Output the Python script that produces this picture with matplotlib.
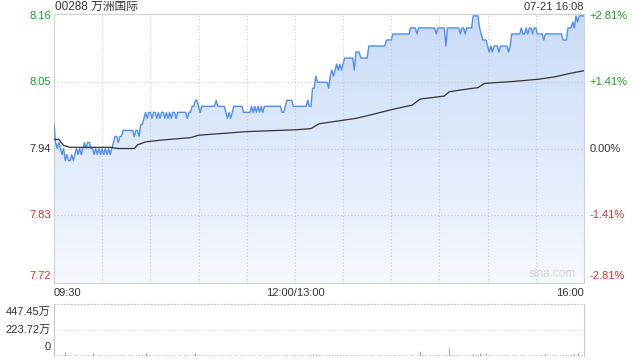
import numpy as np
import matplotlib.pyplot as plt
from matplotlib.colors import LinearSegmentedColormap

plt.rcParams['font.family'] = ['Liberation Sans', 'Noto Sans CJK SC']

title = '00288 万洲国际'
stamp = '07-21 16:08'
pre_close = 7.94
price_ticks = [8.16, 8.05, 7.94, 7.83, 7.72]
pct_labels = ['+2.81%', '+1.41%', '0.00%', '-1.41%', '-2.81%']
time_labels = ['09:30', '12:00/13:00', '16:00']
vol_ticks = [447.45, 223.72, 0]
vol_labels = ['447.45万', '223.72万', '0']

# one price per minute, 09:30 .. 16:00 (lunch break removed)
price = [
    7.98, 7.95, 7.94, 7.95, 7.94, 7.93, 7.94, 7.92, 7.93, 7.92,
    7.92, 7.93, 7.92, 7.93, 7.94, 7.93, 7.94, 7.93, 7.94, 7.95,
    7.94, 7.95, 7.95, 7.94, 7.94, 7.93, 7.94, 7.93, 7.94, 7.93,
    7.94, 7.93, 7.94, 7.93, 7.94, 7.93, 7.94, 7.95, 7.96, 7.96,
    7.95, 7.96, 7.96, 7.97, 7.97, 7.97, 7.97, 7.97, 7.97, 7.97,
    7.96, 7.97, 7.97, 7.96, 7.98, 7.98, 7.99, 8.00, 7.99, 8.00,
    8.00, 7.99, 8.00, 8.00, 7.99, 8.00, 7.99, 8.00, 8.00, 7.99,
    8.00, 7.99, 8.00, 7.99, 8.00, 8.00, 7.99, 8.00, 8.00, 8.00,
    8.00, 8.00, 8.00, 7.99, 8.00, 8.00, 8.01, 8.01, 8.02, 8.02,
    8.01, 8.00, 8.01, 8.01, 8.01, 8.01, 8.01, 8.01, 8.01, 8.01,
    8.01, 8.02, 8.01, 8.01, 8.01, 8.01, 8.01, 8.00, 7.99, 8.00,
    7.99, 8.00, 8.01, 8.01, 8.01, 8.01, 8.01, 8.01, 8.00, 8.00,
    8.00, 8.00, 8.00, 8.01, 8.00, 8.01, 8.00, 8.01, 8.00, 8.01,
    8.00, 8.01, 8.01, 8.01, 8.01, 8.01, 8.01, 8.01, 8.01, 8.01,
    8.01, 8.01, 8.00, 8.00, 8.01, 8.02, 8.02, 8.02, 8.02, 8.01,
    8.01, 8.01, 8.01, 8.01, 8.01, 8.01, 8.01, 8.01, 8.02, 8.01,
    8.01, 8.04, 8.04, 8.06, 8.05, 8.05, 8.05, 8.05, 8.05, 8.05,
    8.05, 8.04, 8.06, 8.07, 8.06, 8.07, 8.08, 8.07, 8.08, 8.07,
    8.08, 8.09, 8.09, 8.09, 8.09, 8.09, 8.09, 8.07, 8.10, 8.10,
    8.10, 8.09, 8.09, 8.09, 8.09, 8.09, 8.11, 8.11, 8.11, 8.11,
    8.11, 8.11, 8.11, 8.11, 8.11, 8.11, 8.11, 8.12, 8.12, 8.12,
    8.12, 8.13, 8.13, 8.13, 8.13, 8.13, 8.13, 8.13, 8.13, 8.13,
    8.13, 8.13, 8.14, 8.14, 8.14, 8.14, 8.13, 8.14, 8.14, 8.14,
    8.14, 8.14, 8.14, 8.14, 8.14, 8.14, 8.14, 8.14, 8.13, 8.14,
    8.14, 8.14, 8.14, 8.14, 8.11, 8.14, 8.14, 8.14, 8.14, 8.14,
    8.14, 8.14, 8.14, 8.13, 8.14, 8.14, 8.13, 8.14, 8.14, 8.14,
    8.14, 8.16, 8.16, 8.16, 8.16, 8.14, 8.13, 8.12, 8.12, 8.12,
    8.11, 8.10, 8.11, 8.10, 8.11, 8.11, 8.11, 8.10, 8.11, 8.11,
    8.11, 8.11, 8.11, 8.10, 8.11, 8.13, 8.13, 8.13, 8.13, 8.13,
    8.13, 8.14, 8.13, 8.13, 8.14, 8.13, 8.14, 8.14, 8.13, 8.14,
    8.14, 8.13, 8.13, 8.13, 8.13, 8.12, 8.13, 8.13, 8.13, 8.13,
    8.13, 8.13, 8.13, 8.13, 8.13, 8.13, 8.13, 8.12, 8.12, 8.12,
    8.14, 8.14, 8.14, 8.15, 8.14, 8.16, 8.15, 8.16, 8.16, 8.16,
    8.16,
]

# average price line, read at these minutes
avg_min = [0, 3, 6, 10, 35, 40, 50, 52, 57, 67, 85, 90, 105, 120, 150, 160,
           165, 188, 196, 211, 223, 228, 243, 246, 253, 264, 268, 285, 302,
           312, 322, 330]
avg_val = [7.955, 7.955, 7.945, 7.942, 7.942, 7.940, 7.940, 7.946, 7.951,
           7.954, 7.958, 7.962, 7.965, 7.968, 7.971, 7.973, 7.981, 7.990,
           7.995, 8.005, 8.012, 8.022, 8.027, 8.034, 8.037, 8.041, 8.048,
           8.051, 8.055, 8.059, 8.065, 8.069]

# volume per minute, in 万
volume = [
    18, 6, 5, 8, 4, 6, 9, 35, 7, 5, 6, 4, 8, 5, 7, 4, 6, 9, 5, 4, 7, 6, 5, 8, 25, 6, 4, 7, 5, 6,
    8, 5, 4, 6, 9, 5, 7, 12, 6, 4, 5, 8, 6, 10, 5, 4, 7, 5, 6, 9, 4, 6, 8, 5, 7, 12, 6, 30, 8, 5,
    6, 4, 7, 5, 9, 6, 4, 5, 8, 6, 5, 7, 4, 6, 9, 5, 4, 6, 7, 5, 4, 8, 6, 5, 7, 4, 9, 6, 30, 8,
    10, 6, 5, 7, 4, 6, 5, 8, 4, 6, 7, 5, 4, 6, 8, 5, 7, 4, 6, 9, 5, 4, 6, 5, 7, 4, 6, 5, 8, 4,
    5, 7, 4, 6, 5, 8, 4, 6, 5, 7, 4, 5, 6, 4, 7, 5, 6, 4, 8, 5, 6, 4, 7, 5, 9, 6, 4, 5, 7, 6,
    8, 5, 4, 6, 5, 7, 4, 6, 8, 5, 6, 14, 9, 18, 8, 6, 5, 7, 4, 6, 5, 9, 7, 10, 6, 8, 12, 7, 9, 6,
    5, 8, 6, 4, 7, 5, 6, 9, 10, 6, 5, 7, 4, 6, 5, 8, 12, 6, 5, 7, 4, 6, 8, 5, 6, 4, 7, 9, 6, 5,
    6, 10, 5, 4, 6, 7, 5, 4, 6, 5, 8, 4, 9, 6, 5, 4, 7, 6, 45, 8, 6, 5, 7, 4, 6, 5, 8, 6, 7, 5,
    6, 4, 7, 5, 12, 6, 70, 8, 6, 5, 7, 6, 5, 8, 4, 6, 5, 7, 4, 8, 6, 14, 9, 6, 5, 22, 8, 7, 6, 28,
    9, 6, 5, 7, 4, 6, 8, 5, 4, 6, 7, 5, 8, 6, 4, 9, 6, 5, 7, 4, 6, 5, 8, 6, 4, 7, 5, 6, 4, 8,
    5, 7, 4, 6, 8, 5, 20, 6, 4, 7, 5, 6, 9, 5, 4, 6, 8, 5, 7, 6, 9, 8, 12, 10, 14, 9, 30, 11, 8, 10,
    22,
]

green = '#1c9e1c'
red = '#e3302a'
dark = '#333333'
grid = '#c8c8c8'

n = len(price) - 1
x = np.arange(len(price))
ymin, ymax = pre_close * (1 - 0.0281), pre_close * (1 + 0.0281)

fig = plt.figure(figsize=(6.4, 3.6), dpi=100)
ax = fig.add_axes([54 / 640, 1 - 283 / 360, 530 / 640, 269 / 360])
axv = fig.add_axes([54 / 640, 1 - 356 / 360, 530 / 640, 52 / 360])

# gradient area under the price line
cmap = LinearSegmentedColormap.from_list('fade', ['#f6f9fe', '#c9dbf7'])
grad = np.linspace(0, 1, 256).reshape(-1, 1)
im = ax.imshow(grad, extent=[0, n, ymin, ymax], origin='lower', aspect='auto',
               cmap=cmap, zorder=1)
area = ax.fill_between(x, price, ymin, facecolor='none', edgecolor='none')
im.set_clip_path(area.get_paths()[0], transform=ax.transData)

ax.plot(x, price, color='#4f8ef2', lw=1.0, zorder=3)
ax.plot(avg_min, avg_val, color=dark, lw=0.9, zorder=3)

ax.set_xlim(0, n)
ax.set_ylim(ymin, ymax)
for t in range(30, n, 30):
    ax.axvline(t, color=grid, lw=0.8, ls=(0, (1, 2)), zorder=2)
for p in price_ticks[1:-1]:
    ax.axhline(p, color=grid, lw=0.8, ls=(0, (1, 2)), zorder=2)
ax.set_xticks([])
ax.set_yticks([])
for s in ax.spines.values():
    s.set_color('#d0d0d0')
    s.set_linewidth(0.8)

cols = [green, green, dark, red, red]
for i, (p, lab) in enumerate(zip(price_ticks, pct_labels)):
    va = 'bottom' if i == len(price_ticks) - 1 else 'center'
    ax.text(-0.006, p, f'{p:.2f}', transform=ax.get_yaxis_transform(),
            ha='right', va=va, fontsize=8, color=cols[i])
    ax.text(1.01, p, lab, transform=ax.get_yaxis_transform(),
            ha='left', va=va, fontsize=8, color=cols[i])

fig.text(55 / 640, 1 - 7 / 360, title, ha='left', va='center', fontsize=8.5, color=dark)
fig.text(584 / 640, 1 - 7 / 360, stamp, ha='right', va='center', fontsize=8, color=dark)
ax.text(0.985, 0.01, 'sina.com', transform=ax.transAxes, ha='right', va='bottom',
        fontsize=8.5, color='#d2d2d2')

ax.text(0, -0.02, time_labels[0], transform=ax.transAxes, ha='left', va='top', fontsize=8, color=dark)
ax.text(150 / n, -0.02, time_labels[1], transform=ax.transAxes, ha='center', va='top', fontsize=8, color=dark)
ax.text(1, -0.02, time_labels[2], transform=ax.transAxes, ha='right', va='top', fontsize=8, color=dark)

# volume panel
axv.vlines(np.arange(len(volume)), 0, volume, color='#8a8a8a', lw=0.6)
axv.set_xlim(0, n)
axv.set_ylim(0, vol_ticks[0])
axv.set_xticks([])
axv.set_yticks([])
axv.axhline(vol_ticks[1], color=grid, lw=0.8, ls=(0, (1, 2)))
axv.spines['top'].set_linestyle((0, (1, 2)))
axv.spines['bottom'].set_visible(False)
for s in axv.spines.values():
    s.set_color('#c8c8c8')
    s.set_linewidth(0.8)
vas = ['top', 'center', 'bottom']
offs = [-0.06, 0, 0.08]
for v, lab, va, o in zip(vol_ticks, vol_labels, vas, offs):
    axv.text(-0.006, v / vol_ticks[0] + o, lab, transform=axv.transAxes,
             ha='right', va=va, fontsize=8, color=dark)

fig.savefig('out.png', dpi=100)
